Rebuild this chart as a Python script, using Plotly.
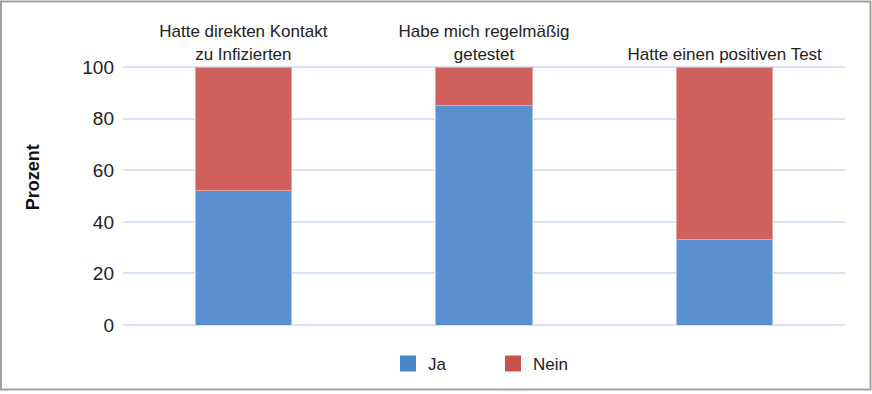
import plotly.graph_objects as go

categories = ["Hatte direkten Kontakt<br>zu Infizierten", "Habe mich regelmäßig<br>getestet", "Hatte einen positiven Test"]
ja_values = [52, 85, 33]
nein_values = [48, 15, 67]
series_names = ["Ja", "Nein"]
y_ticks = [0, 20, 40, 60, 80, 100]

FONT = "Liberation Sans, Arial, sans-serif"
BLUE = "#5a90cf"
RED = "#d0605c"

fig = go.Figure()
fig.add_trace(go.Bar(x=categories, y=ja_values, name=series_names[0], marker=dict(color=BLUE, line=dict(color="#a9c4e6", width=1)), width=0.4, showlegend=False))
fig.add_trace(go.Bar(x=categories, y=nein_values, name=series_names[1], marker=dict(color=RED, line=dict(color="#e2a3a1", width=1)), width=0.4, showlegend=False))
# legend entries
fig.add_trace(go.Scatter(x=[None], y=[None], mode="markers", name=series_names[0], marker=dict(symbol="square", size=20, color="#4a86c8")))
fig.add_trace(go.Scatter(x=[None], y=[None], mode="markers", name=series_names[1], marker=dict(symbol="square", size=20, color="#c9534e")))

L, R, T, B = 123, 27, 66, 67
W, H = 872, 394
pw, ph = W - L - R, H - T - B

def px_x(q):
    return (q - L) / pw

def px_y(p):
    return (H - B - p) / ph

fig.update_layout(
    width=W, height=H,
    margin=dict(l=L, r=R, t=T, b=B),
    paper_bgcolor="white", plot_bgcolor="white",
    barmode="stack",
    font=dict(family=FONT, color="#222222"),
    xaxis=dict(side="top", showgrid=False, showline=False, ticks="",
               tickfont=dict(size=17, family=FONT, color="#222222"), ticklabelstandoff=2),
    yaxis=dict(range=[0, 100.5], tickvals=y_ticks, showgrid=True, gridcolor="#d8e4f3", gridwidth=1.5,
               zeroline=True, zerolinecolor="#d8e4f3", zerolinewidth=1.5, showline=False, ticks="",
               tickfont=dict(size=19, family=FONT, color="#222222"), ticklabelstandoff=8),
    legend=dict(orientation="h", x=px_x(388), xanchor="left", y=px_y(348), yanchor="top",
                font=dict(size=17, family=FONT, color="#222222"), itemsizing="trace", traceorder="normal",
                itemwidth=30, entrywidth=60, entrywidthmode="pixels", tracegroupgap=0, bgcolor="rgba(0,0,0,0)"),
    showlegend=True,
    annotations=[dict(text="<b>Prozent</b>", textangle=-90, xref="paper", yref="paper",
                      x=px_x(33), y=px_y(178), xanchor="center", yanchor="middle", showarrow=False,
                      font=dict(size=18, family=FONT, color="#111111"))],
    shapes=[dict(type="rect", xref="paper", yref="paper", x0=px_x(1), x1=px_x(870.5), y0=px_y(392), y1=px_y(1),
                 line=dict(color="#a2a29c", width=2), fillcolor="rgba(0,0,0,0)", layer="below")],
)

fig.write_html("out.html", config={"displayModeBar": False},
               post_script="document.body.style.margin='0';document.body.style.overflow='hidden';")
